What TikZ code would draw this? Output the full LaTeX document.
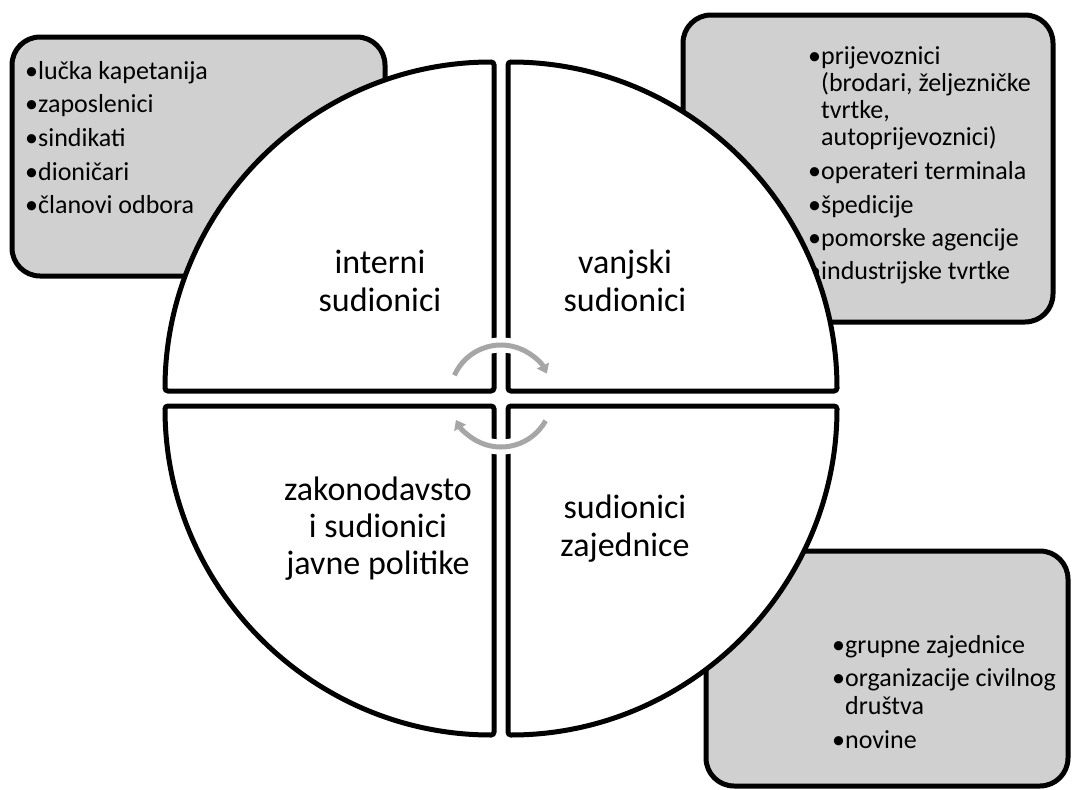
\documentclass[tikz,border=0pt]{standalone}
\usepackage{fontspec}
\setmainfont{Carlito}
\usetikzlibrary{arrows.meta}
\definecolor{boxgray}{RGB}{208,208,208}
\definecolor{arcgray}{RGB}{166,166,166}
\newcommand\blt{\makebox[13pt][l]{•}}
\newcommand\ind{\hspace*{13pt}}
\begin{document}
\begin{tikzpicture}[x=1pt,y=1pt,
  listbox/.style={draw=black, fill=boxgray, line width=5pt, rounded corners=28pt},
  quad/.style={draw=black, fill=white, line width=5pt, rounded corners=3pt},
  item/.style={anchor=base west, inner sep=0pt, font=\fontsize{26}{27}\selectfont},
  lab/.style={anchor=base, inner sep=0pt, font=\fontsize{34}{37}\selectfont},
  cycunder/.style={draw=white, line width=15pt},
  cyc/.style={draw=arcgray, line width=5pt, -{Triangle[width=13pt,length=9pt]}}]
\useasboundingbox (0,0) rectangle (1072,-790);
\fill[white] (0,0) rectangle (1072,-790);
% list boxes
\draw[listbox] (12,-37) rectangle (385,-276);
\draw[listbox] (683,-15) rectangle (1053,-322);
\draw[listbox] (706,-551) rectangle (1068,-786);
% top-left list
\node[item] (tl1) at (25,-79) {\blt lučka kapetanija};
\node[item] (tl2) at (25,-112) {\blt zaposlenici};
\node[item] (tl3) at (25,-146) {\blt sindikati};
\node[item] (tl4) at (25,-180) {\blt dioničari};
\node[item] (tl5) at (25,-213) {\blt članovi odbora};
% top-right list
\node[item] (tr1) at (808,-64) {\blt prijevoznici};
\node[item] (tr2) at (808,-91) {\ind(brodari, željezničke};
\node[item] (tr3) at (808,-118) {\ind tvrtke,};
\node[item] (tr4) at (808,-145) {\ind autoprijevoznici)};
\node[item] (tr5) at (808,-179) {\blt operateri terminala};
\node[item] (tr6) at (808,-213) {\blt špedicije};
\node[item] (tr7) at (808,-246) {\blt pomorske agencije};
\node[item] (tr8) at (808,-279) {\blt industrijske tvrtke};
% bottom-right list
\node[item] (br1) at (832,-653) {\blt grupne zajednice};
\node[item] (br2) at (832,-686) {\blt organizacije civilnog};
\node[item] (br3) at (832,-714) {\ind društva};
\node[item] (br4) at (832,-748) {\blt novine};
% quadrants
\draw[quad] (494,-391) -- (165,-391) arc[start angle=180, end angle=90, radius=329pt] -- cycle;
\draw[quad] (508,-391) -- (508,-62) arc[start angle=90, end angle=0, radius=329pt] -- cycle;
\draw[quad] (508,-406) -- (837,-406) arc[start angle=0, end angle=-90, radius=329pt] -- cycle;
\draw[quad] (494,-406) -- (494,-735) arc[start angle=-90, end angle=-180, radius=329pt] -- cycle;
% labels
\node[lab] (l1a) at (380,-273) {interni};
\node[lab] (l1b) at (380,-311) {sudionici};
\node[lab] (l2a) at (625,-273) {vanjski};
\node[lab] (l2b) at (625,-311) {sudionici};
\node[lab] (l3a) at (378,-500) {zakonodavsto};
\node[lab] (l3b) at (378,-537) {i sudionici};
\node[lab] (l3c) at (378,-574) {javne politike};
\node[lab] (l4a) at (625,-518) {sudionici};
\node[lab] (l4b) at (625,-556) {zajednice};
% cycle arrows
\coordinate (cc) at (501,-396);
\draw[cycunder] ([shift={(156:51pt)}]cc) arc[start angle=156, end angle=30, radius=51pt];
\draw[cycunder] ([shift={(-29:51pt)}]cc) arc[start angle=-29, end angle=-148, radius=51pt];
\draw[cyc] ([shift={(156:51pt)}]cc) arc[start angle=156, end angle=26, radius=51pt];
\draw[cyc] ([shift={(-29:51pt)}]cc) arc[start angle=-29, end angle=-152, radius=51pt];
\end{tikzpicture}
\end{document}
